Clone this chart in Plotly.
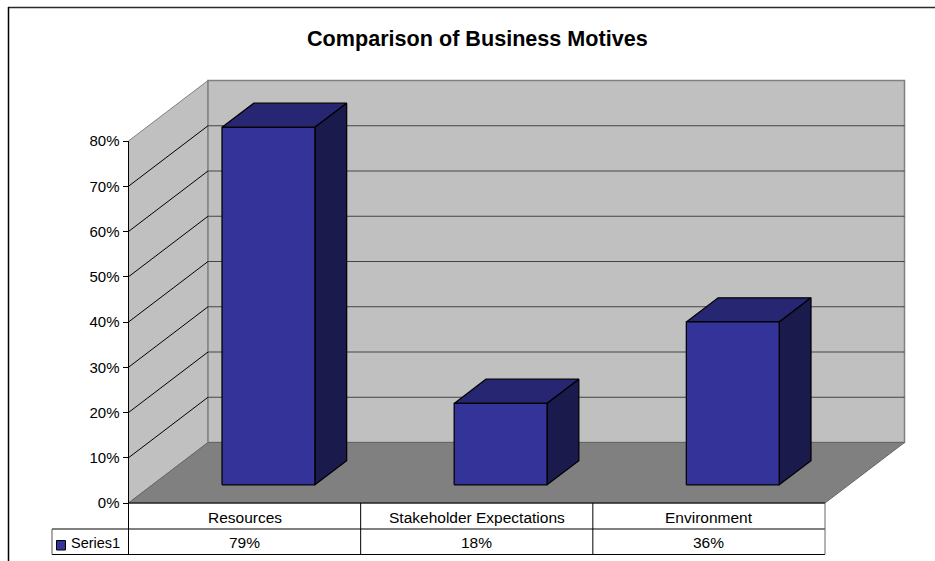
import plotly.graph_objects as go

# ---- data ----
categories = ["Resources", "Stakeholder Expectations", "Environment"]
values = [79, 18, 36]
value_labels = ["79%", "18%", "36%"]
series_name = "Series1"
title_text = "Comparison of Business Motives"
tick_values = [0, 10, 20, 30, 40, 50, 60, 70, 80]
tick_labels = ["0%", "10%", "20%", "30%", "40%", "50%", "60%", "70%", "80%"]

# ---- layout constants (pixels) ----
W, H = 935, 561
X0, XEND = 128.5, 825.0      # front plane left / right
Y0, Y80 = 503.0, 141.0       # front plane 0% and 80%
CAT_PX = (XEND - X0) / len(categories)
VAL_PX = (Y0 - Y80) / 80.0
DEPTH_DX = 79.5 / CAT_PX     # depth vector, in axis units
DEPTH_DY = 60.5 / VAL_PX
BAR_W = 0.4
BAR_T0, BAR_T1 = 0.30, 0.70  # bar position in the depth of the box
TOP = max(tick_values)
FONT = "Liberation Sans"
FS = 15.5


def proj(x, v, t):
    """Oblique projection: category x, value v, depth t (0 front, 1 back)."""
    return x + t * DEPTH_DX, v + t * DEPTH_DY


def poly(points, fill, line, width=1):
    xs, ys = zip(*[proj(*p) for p in points])
    return go.Scatter(x=list(xs) + [xs[0]], y=list(ys) + [ys[0]], mode="lines",
                      fill="toself", fillcolor=fill,
                      line=dict(color=line, width=width),
                      hoverinfo="skip", showlegend=False)


def path(points, color, width=1):
    xs, ys = zip(*[proj(*p) for p in points])
    return go.Scatter(x=list(xs), y=list(ys), mode="lines",
                      line=dict(color=color, width=width),
                      hoverinfo="skip", showlegend=False)


n = len(categories)
fig = go.Figure()

# walls and floor
fig.add_trace(poly([(0, 0, 0), (0, 0, 1), (0, TOP, 1), (0, TOP, 0)], "#C0C0C0", "#808080"))
fig.add_trace(poly([(0, 0, 1), (n, 0, 1), (n, TOP, 1), (0, TOP, 1)], "#C0C0C0", "#808080", 1.5))
fig.add_trace(poly([(0, 0, 0), (n, 0, 0), (n, 0, 1), (0, 0, 1)], "#808080", "#666666"))

# gridlines
for v in tick_values[1:-1]:
    fig.add_trace(path([(0, v, 0), (0, v, 1)], "#000000"))
    fig.add_trace(path([(0, v, 1), (n, v, 1)], "#444444"))

# front axis line
fig.add_trace(path([(0, 0, 0), (0, TOP, 0)], "#000000"))

# bars
for i, val in enumerate(values):
    a, b = i + 0.5 - BAR_W / 2, i + 0.5 + BAR_W / 2
    fig.add_trace(poly([(a, val, BAR_T0), (b, val, BAR_T0), (b, val, BAR_T1), (a, val, BAR_T1)],
                       "#262673", "#000000", 1.25))
    fig.add_trace(poly([(b, 0, BAR_T0), (b, 0, BAR_T1), (b, val, BAR_T1), (b, val, BAR_T0)],
                       "#1A1A4D", "#000000", 1.25))
    fig.add_trace(poly([(a, 0, BAR_T0), (b, 0, BAR_T0), (b, val, BAR_T0), (a, val, BAR_T0)],
                       "#333399", "#000000", 1.25))


def px(x):
    return x / W


def py(y):
    return 1 - y / H


def seg(x0, y0, x1, y1, color="#000000", width=1):
    return dict(type="line", xref="paper", yref="paper", x0=px(x0), y0=py(y0), x1=px(x1), y1=py(y1),
                line=dict(color=color, width=width), layer="above")


ROW1, ROW2 = 529.0, 554.5
KEY_X0 = 52.0
shapes = [
    seg(8, 7.5, W, 7.5, "#2A2A2A", 1.5),
    seg(8.5, 7, 8.5, H, "#000000", 1.5),
    seg(X0, Y0, XEND, Y0),
    seg(KEY_X0, ROW1, XEND, ROW1),
    seg(KEY_X0, ROW2, XEND, ROW2),
    seg(KEY_X0, ROW1, KEY_X0, ROW2, "#555555"),
    seg(X0, Y0, X0, ROW2),
    seg(XEND, Y0, XEND, ROW2, "#666666"),
]
for i in range(1, n):
    shapes.append(seg(X0 + i * CAT_PX, Y0, X0 + i * CAT_PX, ROW2))
shapes.append(dict(type="rect", xref="paper", yref="paper",
                   x0=px(56.5), x1=px(65.5), y0=py(550), y1=py(540.5),
                   fillcolor="#333399", line=dict(color="#000000", width=1), layer="above"))


def label(text, x, y, size, xref="paper"):
    return dict(text=text, x=x, y=py(y), xref=xref, yref="paper", showarrow=False,
                xanchor="center", yanchor="middle",
                font=dict(family=FONT, size=size, color="#000000"))


annotations = [label("<b>%s</b>" % title_text, px(477), 38, 21.6)]
for i, c in enumerate(categories):
    annotations.append(label(c, i + 0.5, 517, FS, xref="x"))
    annotations.append(label(value_labels[i], i + 0.5, 542.5, FS, xref="x"))
annotations.append(label(series_name, px(95), 542.5, 14.5))

fig.update_layout(
    width=W, height=H, margin=dict(l=0, r=0, t=0, b=0, autoexpand=False),
    paper_bgcolor="#FFFFFF", plot_bgcolor="#FFFFFF", showlegend=False,
    shapes=shapes, annotations=annotations,
    xaxis=dict(domain=[0, 1], range=[-X0 / CAT_PX, (W - X0) / CAT_PX], visible=False, fixedrange=True),
    yaxis=dict(domain=[0, 1], range=[(Y0 - H) / VAL_PX, Y0 / VAL_PX],
               anchor="free", position=X0 / W, side="left",
               showgrid=False, zeroline=False, showline=False,
               tickmode="array", tickvals=tick_values, ticktext=tick_labels,
               ticks="outside", ticklen=6, tickcolor="#000000", tickwidth=1,
               tickfont=dict(family=FONT, size=15, color="#000000"), fixedrange=True),
)

fig.write_html("out.html", config=dict(displayModeBar=False),
               post_script="document.body.style.margin='0';document.body.style.overflow='hidden';")
